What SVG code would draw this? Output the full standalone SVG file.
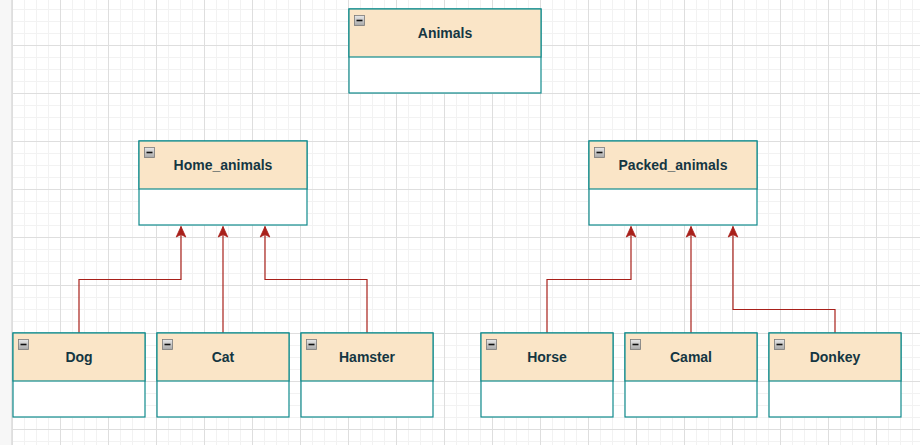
<svg xmlns="http://www.w3.org/2000/svg" width="920" height="445" viewBox="0 0 920 445">
<style>
.hdr{fill:#FAE5C7;stroke:#0F8B8D;stroke-width:1.2}
.box{fill:#ffffff;stroke:#0F8B8D;stroke-width:1.2}
.lbl{font-family:"Liberation Sans",Arial,sans-serif;font-weight:bold;font-size:14px;fill:#143642;text-anchor:middle}
.ico{fill:url(#icog);stroke:#7a7a7a;stroke-width:0.8}
.icm{stroke:#111;stroke-width:1.6}
.edge{fill:none;stroke:#A8201A;stroke-width:1.2}
</style>
<defs>
<linearGradient id="icog" x1="0" y1="0" x2="0" y2="1">
<stop offset="0" stop-color="#e8e8e8"/>
<stop offset="1" stop-color="#a8a8a8"/>
</linearGradient>
<pattern id="grid" patternUnits="userSpaceOnUse" x="12" y="-3" width="48" height="48">
<rect x="12" y="0" width="1" height="48" fill="#f2f2f2"/>
<rect x="24" y="0" width="1" height="48" fill="#f2f2f2"/>
<rect x="36" y="0" width="1" height="48" fill="#f2f2f2"/>
<rect x="0" y="12" width="48" height="1" fill="#f2f2f2"/>
<rect x="0" y="24" width="48" height="1" fill="#f2f2f2"/>
<rect x="0" y="36" width="48" height="1" fill="#f2f2f2"/>
<rect x="0" y="0" width="1" height="48" fill="#dedede"/>
<rect x="0" y="0" width="48" height="1" fill="#dedede"/>
</pattern>
<marker id="arr" markerUnits="userSpaceOnUse" markerWidth="14" markerHeight="12" viewBox="-12 -6 14 12" refX="0" refY="0" orient="auto">
<path d="M0,0 L-10.5,-4.8 L-8,0 L-10.5,4.8 Z" fill="#A8201A" stroke="#A8201A" stroke-width="0.8" stroke-linejoin="miter"/>
</marker>
</defs>
<rect x="0" y="0" width="920" height="445" fill="#ffffff"/>
<rect x="0" y="0" width="12" height="445" fill="#f7f7f7"/>
<rect x="12" y="0" width="908" height="445" fill="url(#grid)"/>
<rect x="11" y="0" width="1" height="445" fill="#e2e2e2"/>

<g id="connectors">
<path class="edge" d="M79,333 V279.5 H181 V226.5" marker-end="url(#arr)"/>
<path class="edge" d="M223,333 V226.5" marker-end="url(#arr)"/>
<path class="edge" d="M367,333 V279.5 H265 V226.5" marker-end="url(#arr)"/>
<path class="edge" d="M547,333 V279.5 H631 V226.5" marker-end="url(#arr)"/>
<path class="edge" d="M691,333 V226.5" marker-end="url(#arr)"/>
<path class="edge" d="M835,333 V309.5 H733 V226.5" marker-end="url(#arr)"/>
</g>

<g id="node-animals">
<rect class="box" x="349" y="9" width="192" height="84"/>
<rect class="hdr" x="349" y="9" width="192" height="48"/>
<rect class="ico" x="354.5" y="15.5" width="10" height="10"/>
<line class="icm" x1="356.5" y1="20.5" x2="362.5" y2="20.5"/>
<text class="lbl" x="445" y="38">Animals</text>
</g>

<g id="node-home-animals">
<rect class="box" x="139" y="141" width="168" height="84"/>
<rect class="hdr" x="139" y="141" width="168" height="48"/>
<rect class="ico" x="144.5" y="147.5" width="10" height="10"/>
<line class="icm" x1="146.5" y1="152.5" x2="152.5" y2="152.5"/>
<text class="lbl" x="223" y="170">Home_animals</text>
</g>

<g id="node-packed-animals">
<rect class="box" x="589" y="141" width="168" height="84"/>
<rect class="hdr" x="589" y="141" width="168" height="48"/>
<rect class="ico" x="594.5" y="147.5" width="10" height="10"/>
<line class="icm" x1="596.5" y1="152.5" x2="602.5" y2="152.5"/>
<text class="lbl" x="673" y="170">Packed_animals</text>
</g>

<g id="node-dog">
<rect class="box" x="13" y="333" width="132" height="84"/>
<rect class="hdr" x="13" y="333" width="132" height="48"/>
<rect class="ico" x="18.5" y="339.5" width="10" height="10"/>
<line class="icm" x1="20.5" y1="344.5" x2="26.5" y2="344.5"/>
<text class="lbl" x="79" y="362">Dog</text>
</g>

<g id="node-cat">
<rect class="box" x="157" y="333" width="132" height="84"/>
<rect class="hdr" x="157" y="333" width="132" height="48"/>
<rect class="ico" x="162.5" y="339.5" width="10" height="10"/>
<line class="icm" x1="164.5" y1="344.5" x2="170.5" y2="344.5"/>
<text class="lbl" x="223" y="362">Cat</text>
</g>

<g id="node-hamster">
<rect class="box" x="301" y="333" width="132" height="84"/>
<rect class="hdr" x="301" y="333" width="132" height="48"/>
<rect class="ico" x="306.5" y="339.5" width="10" height="10"/>
<line class="icm" x1="308.5" y1="344.5" x2="314.5" y2="344.5"/>
<text class="lbl" x="367" y="362">Hamster</text>
</g>

<g id="node-horse">
<rect class="box" x="481" y="333" width="132" height="84"/>
<rect class="hdr" x="481" y="333" width="132" height="48"/>
<rect class="ico" x="486.5" y="339.5" width="10" height="10"/>
<line class="icm" x1="488.5" y1="344.5" x2="494.5" y2="344.5"/>
<text class="lbl" x="547" y="362">Horse</text>
</g>

<g id="node-camal">
<rect class="box" x="625" y="333" width="132" height="84"/>
<rect class="hdr" x="625" y="333" width="132" height="48"/>
<rect class="ico" x="630.5" y="339.5" width="10" height="10"/>
<line class="icm" x1="632.5" y1="344.5" x2="638.5" y2="344.5"/>
<text class="lbl" x="691" y="362">Camal</text>
</g>

<g id="node-donkey">
<rect class="box" x="769" y="333" width="132" height="84"/>
<rect class="hdr" x="769" y="333" width="132" height="48"/>
<rect class="ico" x="774.5" y="339.5" width="10" height="10"/>
<line class="icm" x1="776.5" y1="344.5" x2="782.5" y2="344.5"/>
<text class="lbl" x="835" y="362">Donkey</text>
</g>
</svg>
